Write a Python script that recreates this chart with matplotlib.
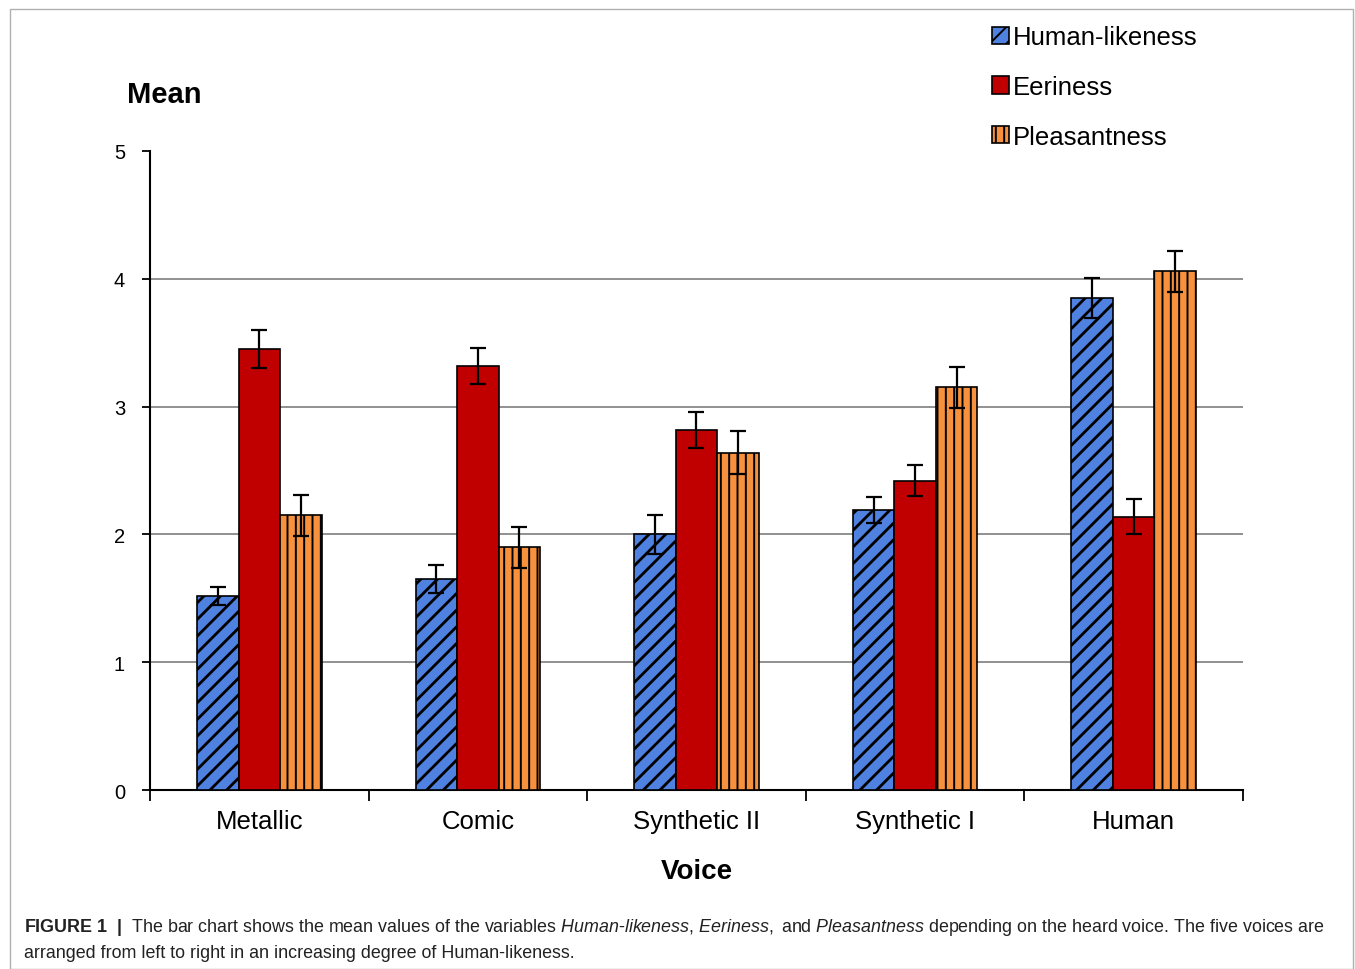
import numpy as np
import matplotlib
matplotlib.use('Agg')
import matplotlib.pyplot as plt
from matplotlib.patches import Rectangle, Patch

plt.rcParams['font.family'] = ['Liberation Sans', 'DejaVu Sans']
plt.rcParams['mathtext.fontset'] = 'custom'
plt.rcParams['mathtext.rm'] = 'Liberation Sans'
plt.rcParams['mathtext.it'] = 'Liberation Sans:italic'
plt.rcParams['mathtext.bf'] = 'Liberation Sans:bold'

voices = ['Metallic', 'Comic', 'Synthetic II', 'Synthetic I', 'Human']
series = ['Human-likeness', 'Eeriness', 'Pleasantness']

human_likeness = [1.52, 1.65, 2.00, 2.19, 3.85]
eeriness = [3.45, 3.32, 2.82, 2.42, 2.14]
pleasantness = [2.15, 1.90, 2.64, 3.15, 4.06]

hl_err = [0.07, 0.11, 0.15, 0.10, 0.16]
ee_err = [0.15, 0.14, 0.14, 0.12, 0.14]
pl_err = [0.16, 0.16, 0.17, 0.16, 0.16]

colors = ['#4f81e0', '#c00000', '#f7913e']
hatches = ['//', '', '||']
hatch_lw = [2.0, 1.0, 1.4]

fig = plt.figure(figsize=(13.55, 9.7), dpi=100)
# light frame around the figure
fig.patches.append(Rectangle((10 / 1355, 0), 1343 / 1355, 960 / 970, transform=fig.transFigure,
                             fill=False, edgecolor='#b0b0b0', linewidth=1.0))

ax = fig.add_axes([0.1107, 0.1845, 0.8066, 0.6588])

x = np.arange(len(voices))
w = 0.19
vals = [human_likeness, eeriness, pleasantness]
errs = [hl_err, ee_err, pl_err]
handles = []
for i in range(3):
    plt.rcParams['hatch.linewidth'] = hatch_lw[i]
    ax.bar(x + (i - 1) * w, vals[i], w, color=colors[i], edgecolor='black', linewidth=1.2,
           hatch=hatches[i], label=series[i], zorder=3)
    ax.errorbar(x + (i - 1) * w, vals[i], yerr=errs[i], fmt='none', ecolor='black',
                elinewidth=1.6, capsize=6, capthick=1.6, zorder=4)
    handles.append(Patch(facecolor=colors[i], edgecolor='black', hatch=hatches[i], linewidth=1.2))

ax.set_xlim(-0.5, 4.5)
ax.set_ylim(0, 5)
ax.set_yticks([0, 1, 2, 3, 4, 5])
ax.set_xticks(x)
ax.set_xticklabels(voices, fontsize=18.5)
ax.set_xticks(np.arange(-0.5, 5, 1), minor=True)
ax.tick_params(axis='x', which='major', length=0, pad=14)
ax.tick_params(axis='x', which='minor', length=8, width=1.3, direction='out')
ax.tick_params(axis='y', labelsize=14.5, length=6, width=1.3, pad=12)
ax.yaxis.grid(True, color='#888888', linewidth=1.3, zorder=0)
ax.set_axisbelow(True)
ax.yaxis.get_gridlines()[-1].set_visible(False)
ax.yaxis.get_gridlines()[0].set_visible(False)
for s in ['top', 'right']:
    ax.spines[s].set_visible(False)
for s in ['left', 'bottom']:
    ax.spines[s].set_linewidth(1.5)

fig.text(127 / 1355, 1 - 95 / 970, 'Mean', fontsize=21, fontweight='bold', va='center', ha='left')
ax.set_xlabel('Voice', fontsize=20, fontweight='bold', labelpad=18)

fig.legend(handles, series, loc='upper left', bbox_to_anchor=(982 / 1355, 1 - 16 / 970),
           frameon=False, fontsize=18.5, handlelength=0.65, handleheight=0.65, handletextpad=0.15,
           labelspacing=1.0, borderaxespad=0)

fig.text(24 / 1355, 1 - 928 / 970,
         r'$\bf{FIGURE\ 1\ \ |}$  The bar chart shows the mean values of the variables $\it{Human}$-$\it{likeness}$, '
         r'$\it{Eeriness,}$ and $\it{Pleasantness}$ depending on the heard voice. The five voices are',
         fontsize=12.9, va='center', ha='left', color='#222222')
fig.text(24 / 1355, 1 - 954 / 970,
         'arranged from left to right in an increasing degree of Human-likeness.',
         fontsize=12.9, va='center', ha='left', color='#222222')

fig.savefig('out.png', dpi=100)
